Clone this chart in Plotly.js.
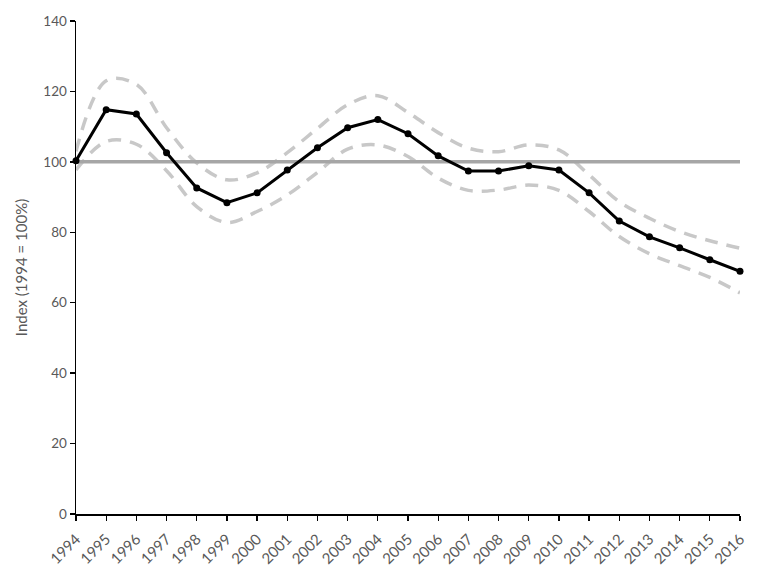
<!DOCTYPE html>
<html>
<head>
<meta charset="utf-8">
<script src="https://cdn.plot.ly/plotly-3.0.1.min.js"></script>
<style>html,body{margin:0;padding:0;background:#fff;}#chart{width:784px;height:578px;}</style>
</head>
<body>
<div id="chart"></div>
<script>
const years = [1994,1995,1996,1997,1998,1999,2000,2001,2002,2003,2004,2005,2006,2007,2008,2009,2010,2011,2012,2013,2014,2015,2016];
const indexValues = [100.3,114.8,113.6,102.6,92.6,88.4,91.2,97.7,104,109.7,112,108,101.7,97.4,97.4,98.9,97.7,91.2,83.2,78.7,75.6,72.2,68.9];
const upperBound = [103,123,122,109.7,99.7,94.9,96.9,102.6,109.5,116.2,118.8,114,108.3,103.9,102.9,104.8,103.4,96.3,88.7,84,80.2,77.6,75.5];
const lowerBound = [97.7,105.8,105,97.5,87.3,82.8,85.9,90.6,97,103.6,104.8,101.5,95.4,91.9,92,93.4,91.9,85.9,78.8,73.9,70.5,67.2,62.8];
const baselineYears = [1994, 2016];
const baselineValues = [100, 100];
const yTicks = [0,20,40,60,80,100,120,140];

const dashStyle = {color:'#c8c8c8', width:3.5, dash:'13px,9px', shape:'spline', smoothing:1};
const traces = [
  {x:years, y:upperBound, mode:'lines', line:dashStyle, hoverinfo:'skip', cliponaxis:false},
  {x:years, y:lowerBound, mode:'lines', line:dashStyle, hoverinfo:'skip', cliponaxis:false},
  {x:baselineYears, y:baselineValues, mode:'lines', line:{color:'#a6a6a6', width:3.5}, cliponaxis:false},
  {x:years, y:indexValues, mode:'lines+markers', line:{color:'#000000', width:3}, marker:{color:'#000000', size:7}, cliponaxis:false}
];

const layout = {
  width:784, height:578,
  margin:{l:76, r:44, t:21, b:64},
  showlegend:false,
  paper_bgcolor:'#ffffff', plot_bgcolor:'#ffffff',
  font:{family:'Lato, "Open Sans", sans-serif', color:'#595959'},
  xaxis:{
    range:[1994,2016], tickmode:'array', tickvals:years, ticktext:years.map(String),
    tickangle:-45, tickfont:{family:'Lato, sans-serif', size:15, color:'#595959'},
    automargin:false, ticklabelstandoff:4,
    showgrid:false, zeroline:false, showline:true, linecolor:'#000000', linewidth:1.5,
    ticks:'outside', ticklen:5, tickcolor:'#000000', tickwidth:1.3
  },
  yaxis:{
    range:[0,140], tickmode:'array', tickvals:yTicks, ticktext:yTicks.map(String),
    tickfont:{size:13.5, color:'#595959'},
    showgrid:false, zeroline:false, showline:true, linecolor:'#000000', linewidth:1.5,
    ticks:'outside', ticklen:5, tickcolor:'#000000', tickwidth:1.3,
    title:{text:'Index (1994 = 100%)', font:{size:15, color:'#595959'}, standoff:12}
  }
};
Plotly.newPlot('chart', traces, layout, {displayModeBar:false, staticPlot:true});
</script>
</body>
</html>
